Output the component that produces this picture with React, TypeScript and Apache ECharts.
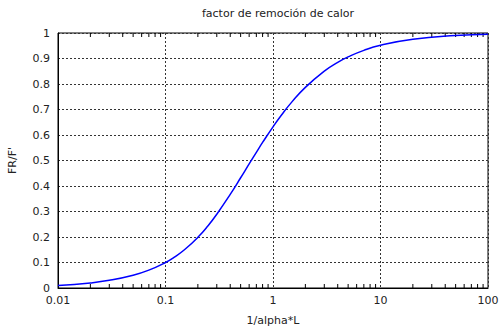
import React, { useEffect, useRef } from "react";
import * as echarts from "echarts";

const titleText = "factor de remoción de calor";
const xName = "1/alpha*L";
const yName = "FR/F'";

const xValues = [0.01, 0.02, 0.03, 0.05, 0.07, 0.1, 0.12, 0.15, 0.2, 0.25, 0.3, 0.4, 0.5, 0.6, 0.7, 0.8, 1, 1.2, 1.5, 2, 3, 4, 5, 7, 10, 20, 50, 100];
const yValues = [0.01, 0.02, 0.03, 0.05, 0.07, 0.1, 0.12, 0.1498, 0.1987, 0.2454, 0.2893, 0.3672, 0.4323, 0.4867, 0.5322, 0.5708, 0.6321, 0.6785, 0.7299, 0.7869, 0.8504, 0.8848, 0.9063, 0.9319, 0.9516, 0.9754, 0.9901, 0.995];

const xTickLabels = ["0.01", "0.1", "1", "10", "100"];
const minorMultipliers = [2, 3, 4, 5, 6, 7, 8, 9];
const decades = [0.01, 0.1, 1, 10];

export default function App() {
  const ref = useRef<HTMLDivElement>(null);
  useEffect(() => {
    if (!ref.current) return;
    const chart = echarts.init(ref.current, null, { renderer: "svg" });
    const minorTicks: number[][] = [];
    decades.forEach((d) => minorMultipliers.forEach((m) => minorTicks.push([+(d * m).toPrecision(3), 0])));
    const font = "DejaVu Sans";
    const gridLine = { show: true, lineStyle: { color: "#333", type: [2, 2] as any, width: 1 } };
    chart.setOption({
      animation: false,
      textStyle: { fontFamily: font },
      title: {
        text: titleText,
        left: 273,
        textAlign: "center",
        top: 3,
        textStyle: { fontSize: 11, fontWeight: "normal", color: "#222", fontFamily: font },
      },
      grid: {
        left: 58,
        top: 33,
        width: 430,
        height: 255,
        show: true,
        borderColor: "#000",
        borderWidth: 1,
        backgroundColor: "transparent",
        containLabel: false,
        outerBoundsMode: "none",
      },
      xAxis: {
        type: "log",
        logBase: 10,
        min: 0.01,
        max: 100,
        name: xName,
        nameLocation: "middle",
        nameGap: 27,
        nameTextStyle: { fontSize: 11, color: "#222", fontFamily: font },
        axisLine: { show: true, onZero: false, lineStyle: { color: "#000", width: 1 } },
        axisTick: { show: false },
        axisLabel: {
          fontSize: 11,
          color: "#222",
          margin: 7,
          formatter: (v: number) => {
            const i = Math.round(Math.log10(v)) + 2;
            return xTickLabels[i] ?? String(v);
          },
        },
        splitLine: gridLine,
      },
      yAxis: {
        type: "value",
        min: 0,
        max: 1,
        interval: 0.1,
        name: yName,
        nameLocation: "middle",
        nameGap: 40,
        nameTextStyle: { fontSize: 11, color: "#222", fontFamily: font },
        axisLine: { show: true, lineStyle: { color: "#000", width: 1 } },
        axisTick: { show: false },
        axisLabel: {
          fontSize: 11,
          color: "#222",
          margin: 8,
          formatter: (v: number) => String(Math.round(v * 10) / 10),
        },
        splitLine: gridLine,
      },
      series: [
        {
          type: "custom",
          silent: true,
          clip: false,
          data: minorTicks,
          renderItem: (params: any, api: any) => {
            const x = api.value(0);
            const b = api.coord([x, 0]);
            const t = api.coord([x, 1]);
            const st = { stroke: "#000", lineWidth: 1 };
            return {
              type: "group",
              children: [
                { type: "line", shape: { x1: b[0], y1: b[1], x2: b[0], y2: b[1] - 4 }, style: st },
                { type: "line", shape: { x1: t[0], y1: t[1], x2: t[0], y2: t[1] + 4 }, style: st },
              ],
            };
          },
        },
        {
          type: "line",
          data: xValues.map((x, i) => [x, yValues[i]]),
          smooth: true,
          showSymbol: false,
          symbol: "none",
          lineStyle: { color: "#0000ff", width: 1.5 },
        },
      ],
    });
    return () => chart.dispose();
  }, []);
  return <div ref={ref} style={{ width: 500, height: 327, position: "absolute", left: 0, top: 0 }} />;
}
